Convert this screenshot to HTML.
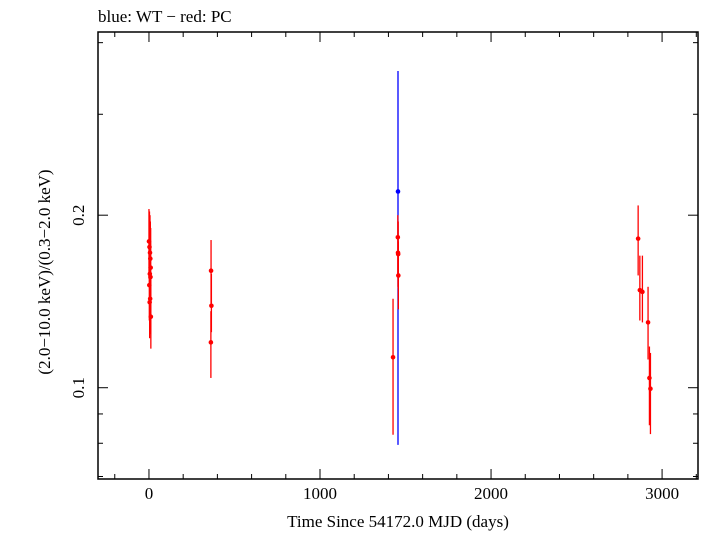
<!DOCTYPE html>
<html><head><meta charset="utf-8"><style>
body{margin:0;background:#fff}
svg text{font-family:"Liberation Serif",serif;fill:#000}
</style></head><body>
<svg id="chart" width="705" height="532" xmlns="http://www.w3.org/2000/svg">
<text x="98" y="22" font-size="17">blue: WT − red: PC</text>
<rect x="98" y="32" width="600" height="447" fill="none" stroke="#000" stroke-width="1.5"/>
<g id="ticks"></g>
<g id="marks"></g>
<text x="398" y="527" font-size="17" text-anchor="middle">Time Since 54172.0 MJD (days)</text>
<text transform="translate(50,272) rotate(-90)" font-size="17" text-anchor="middle">(2.0−10.0 keV)/(0.3−2.0 keV)</text>
</svg>
<script>
const pcTime=[0,3,6,8,10,5,9,2,7,4,11,363,365,362,1427,1455,1456,1457,1458,2860,2870,2885,2918,2926,2932];
const pcVal=[0.180,0.176,0.172,0.168,0.162,0.158,0.156,0.151,0.143,0.141,0.133,0.160,0.139,0.120,0.113,0.183,0.172,0.171,0.157,0.182,0.148,0.147,0.130,0.104,0.0996];
const pcLo=[0.155,0.150,0.148,0.145,0.140,0.137,0.135,0.131,0.124,0.122,0.117,0.140,0.125,0.104,0.0828,0.158,0.150,0.149,0.137,0.157,0.131,0.130,0.112,0.086,0.083];
const pcHi=[0.205,0.203,0.200,0.195,0.190,0.183,0.180,0.175,0.168,0.165,0.155,0.181,0.158,0.136,0.143,0.200,0.195,0.195,0.180,0.208,0.170,0.170,0.150,0.118,0.115];
const wtTime=[1456];
const wtVal=[0.220];
const wtLo=[0.0795];
const wtHi=[0.357];
const xTicks=[0,1000,2000,3000];
const yTicks=[0.1,0.2];
const yMinor=[0.07,0.08,0.09,0.3,0.4];
const X0=98,X1=698,Y0=32,Y1=479,XMIN=-298,XMAX=3210,YMIN=0.0693,YMAX=0.4175;
const xs=t=>X0+(t-XMIN)/(XMAX-XMIN)*(X1-X0);
const ys=v=>Y1-(Math.log10(v)-Math.log10(YMIN))/(Math.log10(YMAX)-Math.log10(YMIN))*(Y1-Y0);
const NS="http://www.w3.org/2000/svg";
function mk(tag,p,parent){const e=document.createElementNS(NS,tag);for(const k in p)e.setAttribute(k,p[k]);parent.appendChild(e);return e;}
const tg=document.getElementById('ticks'),mg=document.getElementById('marks');
for(let t=-200;t<=3200;t+=200){
  const big=t%1000===0,x=xs(t),L=big?10:5;
  let e=mk('line',{x1:x,x2:x,y1:Y1,y2:Y1-L,stroke:'#000'},tg);
  
  
  e=mk('line',{x1:x,x2:x,y1:Y0,y2:Y0+L,stroke:'#000'},tg);
  
  
}
xTicks.forEach(t=>{const e=mk('text',{x:xs(t),y:Y1+20,'font-size':17,'text-anchor':'middle'},tg);e.textContent=t;
  
  });
yTicks.forEach(v=>{const y=ys(v);
  let e=mk('line',{x1:X0,x2:X0+10,y1:y,y2:y,stroke:'#000'},tg);
  
  
  e=mk('line',{x1:X1,x2:X1-10,y1:y,y2:y,stroke:'#000'},tg);
  
  
  e=mk('text',{transform:`translate(${X0-14},${y}) rotate(-90)`,'font-size':17,'text-anchor':'middle'},tg);e.textContent=v;
  
  });
yMinor.forEach(v=>{const y=ys(v);
  let e=mk('line',{x1:X0,x2:X0+5,y1:y,y2:y,stroke:'#000'},tg);
  
  
  e=mk('line',{x1:X1,x2:X1-5,y1:y,y2:y,stroke:'#000'},tg);
  
  });
function series(T,V,Lo,Hi,col,name){
  T.forEach((t,i)=>{const x=xs(t);
    let e=mk('line',{x1:x,x2:x,y1:ys(Lo[i]),y2:ys(Hi[i]),stroke:col,'stroke-width':1.3},mg);
    
    
    e=mk('circle',{cx:x,cy:ys(V[i]),r:2.3,fill:col},mg);
    
    });
}
series(wtTime,wtVal,wtLo,wtHi,'#0000ff','wt');
series(pcTime,pcVal,pcLo,pcHi,'#ff0000','pc');
</script>
</body></html>
